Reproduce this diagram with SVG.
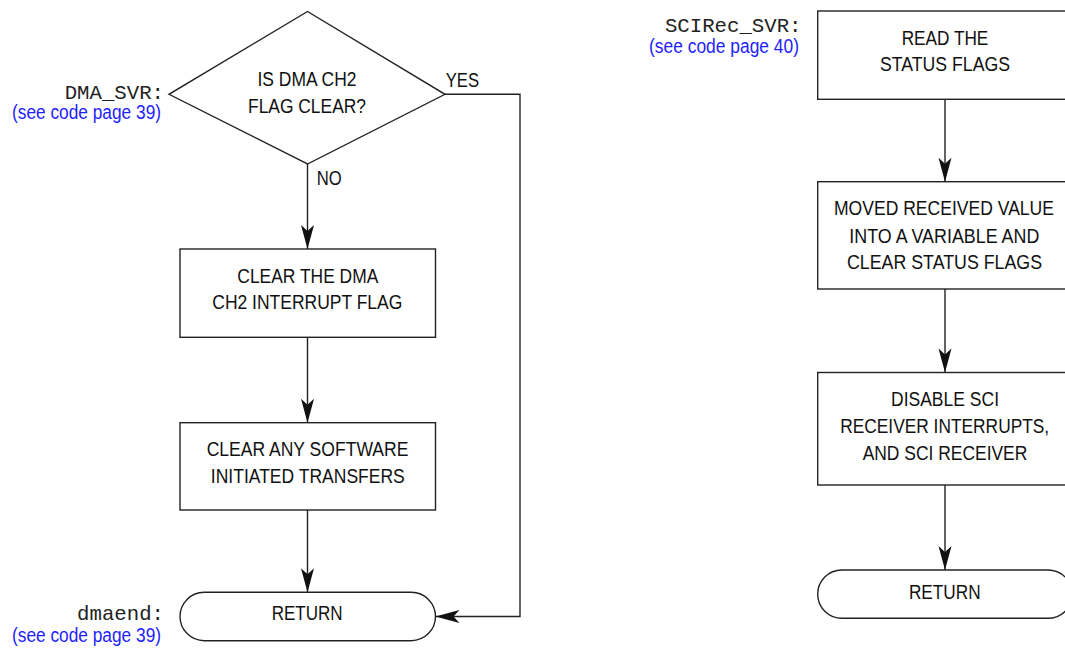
<svg xmlns="http://www.w3.org/2000/svg" width="1065" height="648" viewBox="0 0 1065 648">
<style>
.shape{fill:#fff;stroke:#222;stroke-width:1.4}
.conn{fill:none;stroke:#222;stroke-width:1.4}
.t{font-family:"Liberation Sans",Arial,sans-serif;font-size:20px;fill:#111;text-anchor:middle}
.l{font-family:"Liberation Sans",Arial,sans-serif;font-size:20px;fill:#111}
.m{font-family:"Liberation Mono","Courier New",monospace;font-size:20.7px;fill:#222;text-anchor:end}
.b{font-family:"Liberation Sans",Arial,sans-serif;font-size:20px;fill:#1f1fff}
</style>
<defs>
<marker id="ah" markerUnits="userSpaceOnUse" viewBox="-25 -7 26 14" markerWidth="26" markerHeight="14" refX="0" refY="0" orient="auto">
<path d="M0,0 Q-11,-3 -24,-6.5 L-18,0 L-24,6.5 Q-11,3 0,0 Z" fill="#111"/>
</marker>
</defs>

<g id="connectors">
<line class="conn" x1="307.5" y1="164" x2="307.5" y2="249" marker-end="url(#ah)"/>
<line class="conn" x1="307.5" y1="337.3" x2="307.5" y2="422.7" marker-end="url(#ah)"/>
<line class="conn" x1="307.5" y1="510" x2="307.5" y2="592.3" marker-end="url(#ah)"/>
<path class="conn" d="M445,94.3 H520 V616.5 H435.5" marker-end="url(#ah)"/>
<line class="conn" x1="945" y1="99.3" x2="945" y2="181.7" marker-end="url(#ah)"/>
<line class="conn" x1="945" y1="289" x2="945" y2="372.5" marker-end="url(#ah)"/>
<line class="conn" x1="945" y1="485" x2="945" y2="570" marker-end="url(#ah)"/>
<text class="l" x="445.7" y="87.3" textLength="33.3" lengthAdjust="spacingAndGlyphs">YES</text>
<text class="l" x="316.7" y="185" textLength="25" lengthAdjust="spacingAndGlyphs">NO</text>
</g>

<g id="labels">
<text class="m" x="164" y="99">DMA_SVR:</text>
<text class="b" x="12" y="119.3" textLength="149" lengthAdjust="spacingAndGlyphs">(see code page 39)</text>
<text class="m" x="164" y="620">dmaend:</text>
<text class="b" x="12" y="641.5" textLength="149" lengthAdjust="spacingAndGlyphs">(see code page 39)</text>
<text class="m" x="801.5" y="31.7">SCIRec_SVR:</text>
<text class="b" x="649" y="52.7" textLength="150" lengthAdjust="spacingAndGlyphs">(see code page 40)</text>
</g>

<g id="dma-decision">
<polygon class="shape" points="307.5,11.5 445,94.3 307.5,164 169,94.3"/>
<text class="t" x="307" y="86" textLength="99" lengthAdjust="spacingAndGlyphs">IS DMA CH2</text>
<text class="t" x="307" y="112.7" textLength="118" lengthAdjust="spacingAndGlyphs">FLAG CLEAR?</text>
</g>

<g id="clear-dma-flag">
<rect class="shape" x="180" y="249" width="255.5" height="88.3"/>
<text class="t" x="307.8" y="283.3" textLength="141" lengthAdjust="spacingAndGlyphs">CLEAR THE DMA</text>
<text class="t" x="307.3" y="309.3" textLength="190" lengthAdjust="spacingAndGlyphs">CH2 INTERRUPT FLAG</text>
</g>

<g id="clear-software">
<rect class="shape" x="180" y="422.7" width="255.5" height="87.3"/>
<text class="t" x="307.5" y="456" textLength="201.7" lengthAdjust="spacingAndGlyphs">CLEAR ANY SOFTWARE</text>
<text class="t" x="307.8" y="482.7" textLength="194" lengthAdjust="spacingAndGlyphs">INITIATED TRANSFERS</text>
</g>

<g id="dma-return">
<rect class="shape" x="180" y="592.3" width="255.5" height="48.4" rx="24.2" ry="24.2"/>
<text class="t" x="307.2" y="620" textLength="71" lengthAdjust="spacingAndGlyphs">RETURN</text>
</g>

<g id="read-status">
<rect class="shape" x="817.7" y="11" width="254.6" height="88.3"/>
<text class="t" x="945" y="45" textLength="86.7" lengthAdjust="spacingAndGlyphs">READ THE</text>
<text class="t" x="945" y="71" textLength="130" lengthAdjust="spacingAndGlyphs">STATUS FLAGS</text>
</g>

<g id="move-value">
<rect class="shape" x="817.7" y="181.7" width="254.6" height="107.3"/>
<text class="t" x="944" y="215" textLength="220" lengthAdjust="spacingAndGlyphs">MOVED RECEIVED VALUE</text>
<text class="t" x="944.3" y="242.7" textLength="190" lengthAdjust="spacingAndGlyphs">INTO A VARIABLE AND</text>
<text class="t" x="944.5" y="269.3" textLength="195" lengthAdjust="spacingAndGlyphs">CLEAR STATUS FLAGS</text>
</g>

<g id="disable-sci">
<rect class="shape" x="817.7" y="372.5" width="254.6" height="112.5"/>
<text class="t" x="945" y="406" textLength="108" lengthAdjust="spacingAndGlyphs">DISABLE SCI</text>
<text class="t" x="944.7" y="433.3" textLength="209" lengthAdjust="spacingAndGlyphs">RECEIVER INTERRUPTS,</text>
<text class="t" x="945" y="460" textLength="164.7" lengthAdjust="spacingAndGlyphs">AND SCI RECEIVER</text>
</g>

<g id="sci-return">
<rect class="shape" x="817.7" y="570" width="254.6" height="48.3" rx="24.2" ry="24.2"/>
<text class="t" x="944.8" y="599.3" textLength="71.7" lengthAdjust="spacingAndGlyphs">RETURN</text>
</g>
</svg>
